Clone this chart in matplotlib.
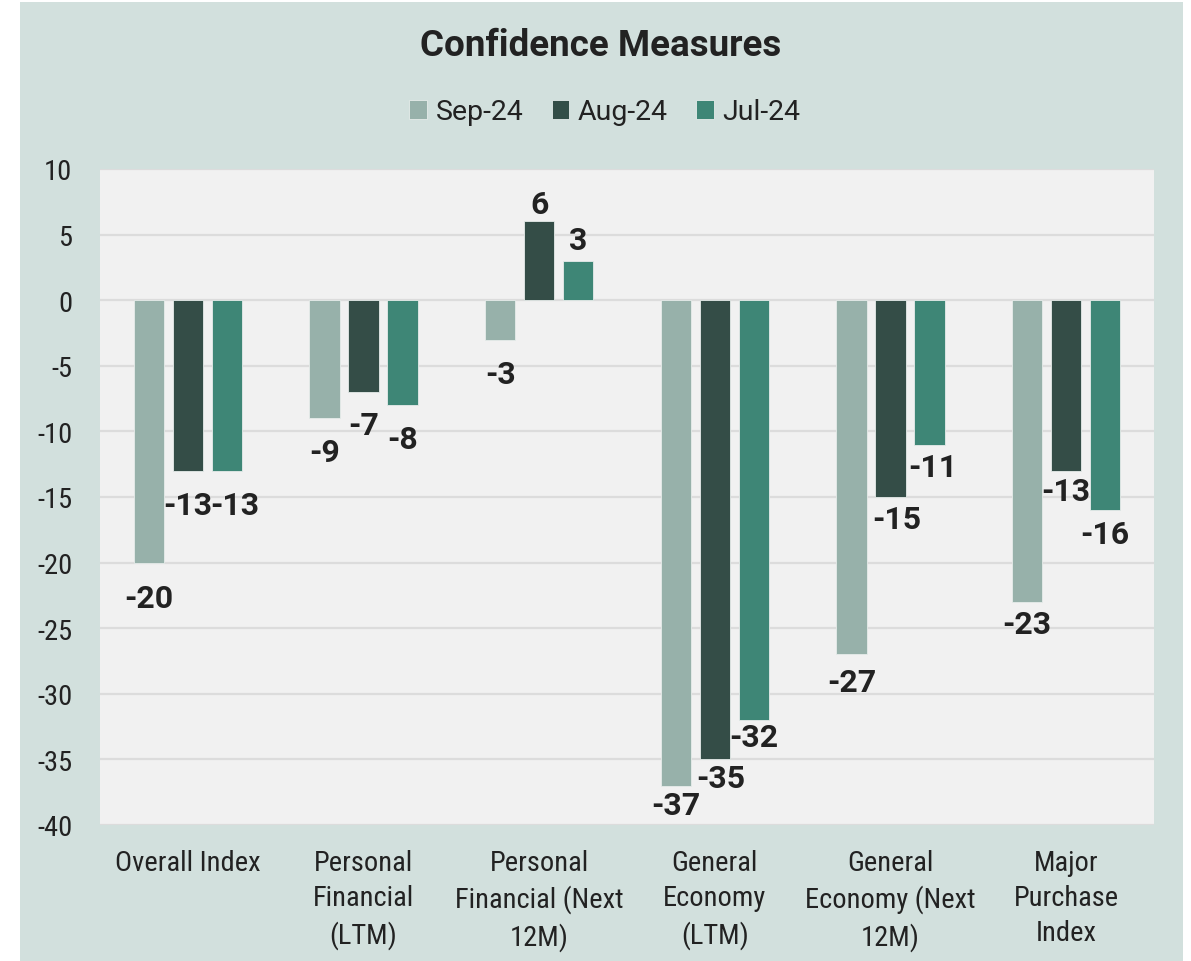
import numpy as np
import matplotlib
matplotlib.use('Agg')
import matplotlib.pyplot as plt
from matplotlib.patches import Rectangle

# --- data ---
categories = ['Overall Index', 'Personal\nFinancial\n(LTM)', 'Personal\nFinancial (Next\n12M)',
              'General\nEconomy\n(LTM)', 'General\nEconomy (Next\n12M)', 'Major\nPurchase\nIndex']
series = ['Sep-24', 'Aug-24', 'Jul-24']
sep_24 = [-20, -9, -3, -37, -27, -23]
aug_24 = [-13, -7, 6, -35, -15, -13]
jul_24 = [-13, -8, 3, -32, -11, -16]
y_ticks = [10, 5, 0, -5, -10, -15, -20, -25, -30, -35, -40]

# --- style ---
PANEL = '#d2e0dd'
PLOT_BG = '#f1f1f1'
GRID = '#dcdcdc'
TEXT = '#222222'
COLORS = ['#97b1aa', '#344d47', '#3e8676']
COND = ['Roboto Condensed', 'Roboto', 'DejaVu Sans']

# label placement tweaks (pixels): gap between bar end and digits, sideways nudge
LABEL_GAP = [[22, 21, 21, 6, 15, 9],
             [21, 20, 8, 6, 9, 7],
             [21, 21, 12, 4, 9, 11]]
LABEL_DX = [[0, 0, 0, 0, 0, 0],
            [0, 0, 0, 6, 6, 0],
            [8, 0, 0, 0, 3, 0]]

plt.rcParams['font.family'] = ['Roboto', 'DejaVu Sans']

W, H = 1191, 962
fig = plt.figure(figsize=(W / 100, H / 100), dpi=100, facecolor='white')
fig.patches.append(Rectangle((20 / W, 0), (1183 - 20) / W, (H - 3) / H,
                             transform=fig.transFigure, facecolor=PANEL,
                             edgecolor='none', zorder=-10))

ax = fig.add_axes([100 / W, (H - 826) / H, (1154 - 100) / W, (826 - 170) / H])
ax.set_facecolor(PLOT_BG)

x = np.arange(len(categories))
width = 0.172
step = 0.222
for i, (name, vals) in enumerate(zip(series, [sep_24, aug_24, jul_24])):
    pos = x + (i - 1) * step
    bars = ax.bar(pos, vals, width, color=COLORS[i], label=name,
                  edgecolor='#e6ecea', linewidth=0.6, zorder=3)
    for j, (b, v) in enumerate(zip(bars, vals)):
        cx = b.get_x() + b.get_width() / 2
        gap, dx = LABEL_GAP[i][j], LABEL_DX[i][j]
        if v < 0:
            ax.annotate(f'{v}', (cx, v), xytext=(dx, -(gap - 2)), textcoords='offset pixels',
                        ha='center', va='top', fontsize=23, fontweight='bold',
                        color=TEXT, zorder=4)
        else:
            ax.annotate(f'{v}', (cx, v), xytext=(dx, gap), textcoords='offset pixels',
                        ha='center', va='baseline', fontsize=23, fontweight='bold',
                        color=TEXT, zorder=4)

ax.set_xlim(-0.5, len(categories) - 0.5)
ax.set_ylim(-40, 10)
ax.set_yticks(y_ticks)
ax.set_yticklabels([str(t) for t in y_ticks], family=COND, fontsize=20.5, color=TEXT)
ax.set_xticks(x)
ax.set_xticklabels(categories, family=COND, fontsize=20.5, color=TEXT, linespacing=1.4, va='top')
ax.tick_params(axis='both', length=0)
ax.tick_params(axis='y', pad=20)
ax.tick_params(axis='x', pad=17)
ax.grid(axis='y', color=GRID, linewidth=1.6, zorder=0)
ax.set_axisbelow(True)
for s in ax.spines.values():
    s.set_visible(False)

fig.text(601 / W, (H - 46) / H, 'Confidence Measures', ha='center', va='center',
         fontsize=26.5, fontweight='bold', color=TEXT)

fig.legend(loc='center', bbox_to_anchor=(605 / W, (H - 113) / H), ncol=3, frameon=False,
           fontsize=20.5, handlelength=0.62, handleheight=0.62, handletextpad=0.3,
           columnspacing=1.0, labelcolor=TEXT)

fig.savefig('out.png', dpi=100, facecolor='white')
